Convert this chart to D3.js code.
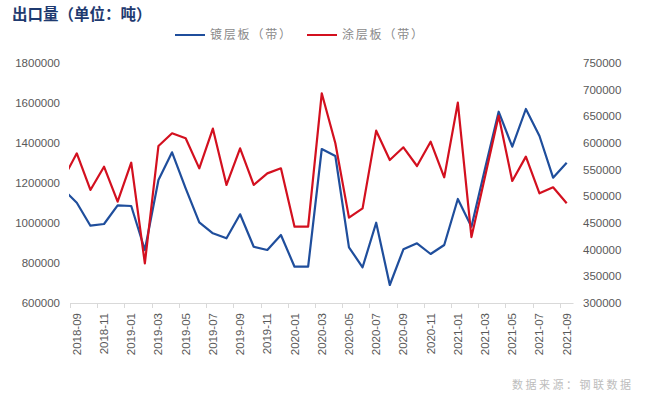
<!DOCTYPE html>
<html>
<head>
<meta charset="utf-8">
<script src="https://cdn.jsdelivr.net/npm/d3@7"></script>
<style>
  body { margin: 0; background: #fff; }
  svg { display: block; }
</style>
</head>
<body>
<div id="chart"></div>
<script>
// months shown on the axis (2018-09 .. 2021-09)
var months = ["2018-09","2018-10","2018-11","2018-12","2019-01","2019-02","2019-03","2019-04","2019-05","2019-06","2019-07","2019-08",
  "2019-09","2019-10","2019-11","2019-12","2020-01","2020-02","2020-03","2020-04","2020-05","2020-06","2020-07","2020-08",
  "2020-09","2020-10","2020-11","2020-12","2021-01","2021-02","2021-03","2021-04","2021-05","2021-06","2021-07","2021-08","2021-09"];

// 镀层板（带） - left axis
var coated = [1101500, 986500, 995000, 1088500, 1085000, 865000, 1215000, 1353500, 1173500, 1003500, 948500, 923500,
  1043500, 881500, 865000, 940000, 781500, 781500, 1370000, 1335000, 878500, 778500, 1001500, 690000,
  868500, 898500, 845000, 890000, 1120000, 981500, 1272000, 1556500, 1381500, 1570000, 1435000, 1226500, 1301500];

// 涂层板（带） - right axis
var painted = [580600, 511900, 555600, 489900, 563100, 374400, 594400, 618200, 608800, 552500, 626900, 521300,
  590000, 521300, 543100, 552500, 443100, 443100, 693200, 599400, 460000, 477500, 623100, 568100,
  591900, 556900, 602500, 535600, 675600, 423500, 537000, 651000, 528800, 574400, 505600, 516900, 486900];

// the month before the axis starts (line runs in from the left edge)
var prevCoated = 1168000, prevPainted = 532700;

var leftTicks = [600000, 800000, 1000000, 1200000, 1400000, 1600000, 1800000];
var rightTicks = [300000, 350000, 400000, 450000, 500000, 550000, 600000, 650000, 700000, 750000];

var W = 660, H = 398;
var plotL = 70, plotR = 573.5, plotT = 63, plotB = 303;

var svg = d3.select("#chart").append("svg")
  .attr("width", W)
  .attr("height", H);

var x = d3.scaleLinear().domain([0, months.length]).range([plotL, plotR]);
var yL = d3.scaleLinear().domain([600000, 1800000]).range([plotB, plotT]);
var yR = d3.scaleLinear().domain([300000, 750000]).range([plotB, plotT]);

var numFont = "'Liberation Sans', Arial, sans-serif";
var cjkFont = "'Noto Sans CJK SC', sans-serif";

// title
svg.append("text")
  .attr("x", 12)
  .attr("y", 20)
  .text("出口量（单位：吨）")
  .style("font-family", cjkFont)
  .style("font-weight", "bold")
  .style("font-size", "15.5px")
  .style("fill", "#1f3a70");

// legend
var legendItems = [
  {name: "镀层板（带）", color: "#1f4e9c", x: 175},
  {name: "涂层板（带）", color: "#d3101f", x: 307}
];
var lg = svg.selectAll(".legend")
  .data(legendItems)
  .enter().append("g")
  .attr("class", "legend")
  .attr("transform", function(d){ return "translate(" + d.x + ",35)"; });
lg.append("line")
  .attr("x1", 0).attr("x2", 30)
  .attr("stroke", function(d){ return d.color; })
  .attr("stroke-width", 2);
lg.append("text")
  .attr("x", 35)
  .attr("y", 4)
  .text(function(d){ return d.name; })
  .style("font-family", cjkFont)
  .style("font-size", "12px")
  .style("letter-spacing", "1.8px")
  .style("fill", "#8a8a8a");

// left axis labels
svg.selectAll(".ylab")
  .data(leftTicks)
  .enter().append("text")
  .attr("class", "ylab")
  .attr("x", 60)
  .attr("y", function(d){ return yL(d) + 4; })
  .attr("text-anchor", "end")
  .text(function(d){ return d; })
  .style("font-family", numFont)
  .style("font-size", "11.5px")
  .style("fill", "#595959");

// right axis labels
svg.selectAll(".yrlab")
  .data(rightTicks)
  .enter().append("text")
  .attr("class", "yrlab")
  .attr("x", 583)
  .attr("y", function(d){ return yR(d) + 4; })
  .text(function(d){ return d; })
  .style("font-family", numFont)
  .style("font-size", "11.5px")
  .style("fill", "#595959");

// x axis line and ticks (every 2 months, on category boundaries)
svg.append("line")
  .attr("x1", plotL).attr("x2", plotR)
  .attr("y1", plotB + 0.5).attr("y2", plotB + 0.5)
  .attr("stroke", "#d9d9d9");

var tickIdx = d3.range(0, months.length, 2);
svg.selectAll(".xtick")
  .data(tickIdx)
  .enter().append("line")
  .attr("class", "xtick")
  .attr("x1", function(i){ return Math.round(x(i)) + 0.5; })
  .attr("x2", function(i){ return Math.round(x(i)) + 0.5; })
  .attr("y1", plotB)
  .attr("y2", plotB + 5)
  .attr("stroke", "#d9d9d9");

svg.selectAll(".xlab")
  .data(tickIdx)
  .enter().append("text")
  .attr("class", "xlab")
  .attr("transform", function(i){ return "translate(" + (x(i + 0.5) + 4) + "," + (plotB + 10) + ") rotate(-90)"; })
  .attr("text-anchor", "end")
  .text(function(i){ return months[i]; })
  .style("font-family", numFont)
  .style("font-size", "11.5px")
  .style("fill", "#595959");

// clip lines to plot area
svg.append("clipPath")
  .attr("id", "plotclip")
  .append("rect")
  .attr("x", plotL - 1)
  .attr("y", 0)
  .attr("width", plotR - plotL + 2)
  .attr("height", H);

function series(vals, prev) {
  var pts = [{i: -1, v: prev}];
  vals.forEach(function(v, i){ pts.push({i: i, v: v}); });
  return pts;
}

var lineL = d3.line()
  .x(function(d){ return x(d.i + 0.5); })
  .y(function(d){ return yL(d.v); });
var lineR = d3.line()
  .x(function(d){ return x(d.i + 0.5); })
  .y(function(d){ return yR(d.v); });

var plot = svg.append("g").attr("clip-path", "url(#plotclip)");

plot.append("path")
  .datum(series(coated, prevCoated))
  .attr("d", lineL)
  .attr("fill", "none")
  .attr("stroke", "#1f4e9c")
  .attr("stroke-width", 2.2)
  .attr("stroke-linejoin", "round");

plot.append("path")
  .datum(series(painted, prevPainted))
  .attr("d", lineR)
  .attr("fill", "none")
  .attr("stroke", "#d3101f")
  .attr("stroke-width", 2.2)
  .attr("stroke-linejoin", "round");

// source note
svg.append("text")
  .attr("x", 512)
  .attr("y", 389)
  .text("数据来源：钢联数据")
  .style("font-family", cjkFont)
  .style("font-size", "11px")
  .style("letter-spacing", "2.5px")
  .style("fill", "#bdbdbd");
</script>
</body>
</html>
